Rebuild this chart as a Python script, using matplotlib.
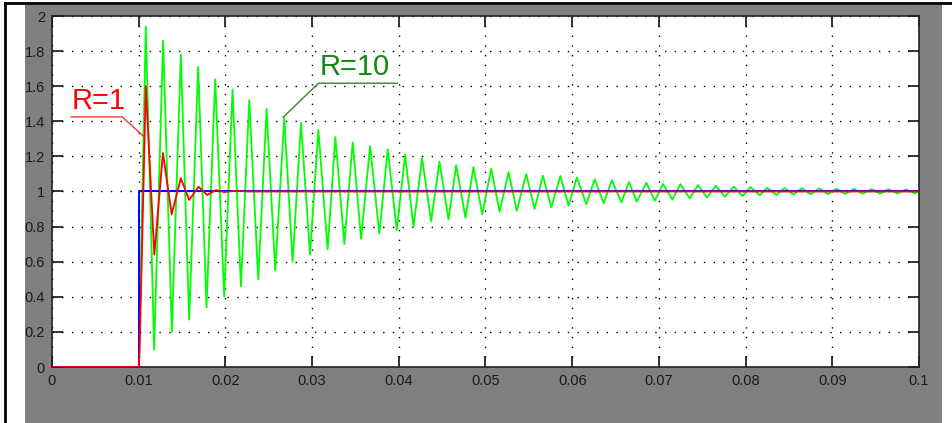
import numpy as np
import matplotlib
matplotlib.use("Agg")
import matplotlib.pyplot as plt
from matplotlib.patches import Rectangle
from matplotlib.lines import Line2D

# Step input (blue)
step_t = [0.0, 0.01, 0.01, 0.1]
step_y = [0.0, 0.0, 1.0, 1.0]

# R=1 response (red): start, rise, then peaks/troughs
r1_t = [0.0, 0.01, 0.0101, 0.01082, 0.0118, 0.0128, 0.0138, 0.01486, 0.01582,
        0.0169, 0.0179, 0.0189, 0.0198, 0.0210, 0.0230, 0.1]
r1_y = [0.0, 0.0, 0.08, 1.60, 0.64, 1.22, 0.87, 1.075, 0.952,
        1.027, 0.98, 1.008, 0.997, 1.003, 1.0, 1.0]

# R=10 response (green): peak / trough times (s) and values
r10_t = [0.0, 0.01,
         0.01082, 0.01178, 0.01282, 0.01382, 0.01486, 0.01582, 0.01686, 0.01782,
         0.01882, 0.01986, 0.02082, 0.02179, 0.02275, 0.02379, 0.02475, 0.02575,
         0.02679, 0.02775, 0.02872, 0.02976, 0.03072, 0.03179, 0.03268, 0.03372,
         0.03468, 0.03565, 0.03669, 0.03776, 0.03872, 0.03976, 0.04073, 0.04169,
         0.04269, 0.04373, 0.04469, 0.04573, 0.04662, 0.04769, 0.04861, 0.04962,
         0.05066, 0.05162, 0.05266, 0.05361, 0.0547, 0.05566, 0.05662, 0.05759,
         0.05863, 0.05958, 0.06054, 0.06163, 0.06259, 0.06363, 0.06458, 0.06567,
         0.06655, 0.06744, 0.06856, 0.06952, 0.07047, 0.07156, 0.07248, 0.07356,
         0.07451, 0.07555, 0.07656, 0.0776, 0.07864, 0.07964, 0.08056, 0.08164,
         0.08248, 0.08357, 0.0845, 0.0855, 0.0865, 0.0875, 0.0885, 0.0895,
         0.0905, 0.0915, 0.0925, 0.0935, 0.0945, 0.0955, 0.0965, 0.0975,
         0.0985, 0.0995, 0.1]
r10_y = [0.0, 0.0,
         1.94, 0.10, 1.86, 0.20, 1.78, 0.27, 1.71, 0.34,
         1.64, 0.40, 1.58, 0.46, 1.52, 0.50, 1.47, 0.55,
         1.42, 0.60, 1.39, 0.64, 1.35, 0.67, 1.31, 0.70,
         1.28, 0.73, 1.26, 0.76, 1.24, 0.78, 1.21, 0.80,
         1.19, 0.83, 1.17, 0.84, 1.15, 0.85, 1.14, 0.87,
         1.13, 0.885, 1.11, 0.89, 1.10, 0.90, 1.09, 0.91,
         1.088, 0.92, 1.08, 0.927, 1.07, 0.933, 1.065, 0.938,
         1.055, 0.942, 1.05, 0.947, 1.043, 0.954, 1.042, 0.96,
         1.037, 0.965, 1.033, 0.97, 1.028, 0.974, 1.025, 0.978,
         1.022, 0.98, 1.02, 0.982, 1.019, 0.984, 1.018, 0.985,
         1.016, 0.986, 1.015, 0.987, 1.014, 0.988, 1.013, 0.989,
         1.012, 0.99, 1.0]

xticks = np.arange(0, 0.1001, 0.01)
xlabels = ["0", "0.01", "0.02", "0.03", "0.04", "0.05", "0.06", "0.07", "0.08", "0.09", "0.1"]
yticks = np.arange(0, 2.001, 0.2)
ylabels = ["0", "0.2", "0.4", "0.6", "0.8", "1", "1.2", "1.4", "1.6", "1.8", "2"]

plt.rcParams['font.family'] = ['Liberation Sans', 'DejaVu Sans']

fig = plt.figure(figsize=(9.53, 4.23), dpi=100)
fig.patch.set_facecolor("white")

# scope window frame
W, H = 953.0, 423.0
fig.patches.append(Rectangle((25 / W, 0), (942 - 25) / W, (H - 5) / H,
                             transform=fig.transFigure, facecolor="#808080",
                             edgecolor="none", zorder=-10))
fig.lines.append(Line2D([5 / W, 1.0], [(H - 3) / H, (H - 3) / H],
                        transform=fig.transFigure, color="black", lw=2, zorder=-5))
fig.lines.append(Line2D([5 / W, 5 / W], [0, (H - 3) / H],
                        transform=fig.transFigure, color="black", lw=2, zorder=-5))

ax = fig.add_axes([52 / W, (H - 367) / H, (919 - 52) / W, (367 - 16) / H])
ax.set_zorder(1)
ax.set_facecolor("white")

ax.plot(r10_t, r10_y, color="#00ff00", lw=1.3, zorder=3)
ax.plot(step_t, step_y, color="#0000ff", lw=1.4, zorder=4)
ax.plot(r1_t, r1_y, color="#ff0000", lw=1.3, zorder=5)

ax.set_xlim(0, 0.1)
ax.set_ylim(0, 2)
ax.set_xticks(xticks)
ax.set_xticklabels(xlabels)
ax.set_yticks(yticks)
ax.set_yticklabels(ylabels)
ax.tick_params(direction="in", length=8, width=1.2, color="#111111",
               top=True, right=True, labelsize=10.5, labelcolor="#1a1a1a")
ax.tick_params(axis="x", pad=5)
ax.tick_params(axis="y", pad=5)
ax.grid(True, linestyle=(0, (1, 6)), color="black", lw=1.0)
for s in ax.spines.values():
    s.set_color("#222222")
    s.set_linewidth(1.2)

# annotations
ax.text(0.0023, 1.435, "R=1", color="#ff0000", fontsize=21, ha="left", va="bottom")
ax.plot([0.0022, 0.0081, 0.01062], [1.425, 1.425, 1.312], color="#ff3030", lw=1.0, zorder=6)
ax.text(0.0309, 1.627, "R=10", color="#108a10", fontsize=21, ha="left", va="bottom")
ax.plot([0.03984, 0.03072, 0.02667], [1.617, 1.617, 1.423], color="#2a8a2a", lw=1.0, zorder=6)

fig.savefig("out.png", dpi=100, facecolor=fig.get_facecolor())
